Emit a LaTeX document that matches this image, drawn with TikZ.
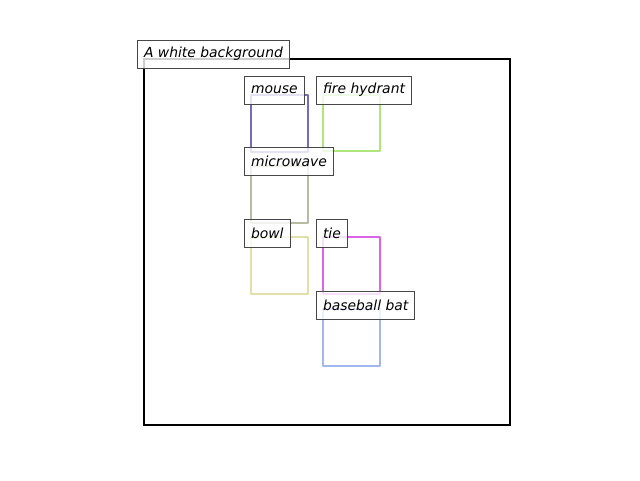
\documentclass[tikz,border=0pt]{standalone}
\usepackage{fontspec}
\setmainfont{DejaVu Sans}
\begin{document}
\begin{tikzpicture}[x=1pt,y=-1pt,
  objbox/.style={line width=2.5pt, line join=round},
  lbl/.style={draw=black!72, line width=1pt, fill=white, fill opacity=0.8, text opacity=1,
    anchor=west, inner xsep=6.5pt, inner ysep=0pt, minimum height=28pt,
    font=\fontsize{13.9}{16}\selectfont\itshape}]
\useasboundingbox (0,0) rectangle (640,480);
\definecolor{cmouse}{RGB}{120,105,185}
\definecolor{chyd}{RGB}{172,230,125}
\definecolor{cmic}{RGB}{182,187,162}
\definecolor{cbowl}{RGB}{226,224,168}
\definecolor{ctie}{RGB}{218,100,232}
\definecolor{cbat}{RGB}{162,182,240}
\draw[line width=2.2pt] (144,59) rectangle (510,425);
\draw[objbox, cmouse] (251,95) rectangle (308,152);
\draw[objbox, chyd] (323,95) rectangle (380,151);
\draw[objbox, cmic] (251,166) rectangle (308,223);
\draw[objbox, cbowl] (251,237) rectangle (308,294);
\draw[objbox, ctie] (323,237) rectangle (380,294);
\draw[objbox, cbat] (323,309) rectangle (380,366);
\node[lbl] (bg) at (137,54) {A white background};
\node[lbl] (mouse) at (244,90) {mouse};
\node[lbl] (hyd) at (316,90) {fire hydrant};
\node[lbl] (mic) at (244,161) {microwave};
\node[lbl] (bowl) at (244,233) {bowl};
\node[lbl] (tie) at (316,233) {tie};
\node[lbl] (bat) at (316,305) {baseball bat};
\end{tikzpicture}
\end{document}
